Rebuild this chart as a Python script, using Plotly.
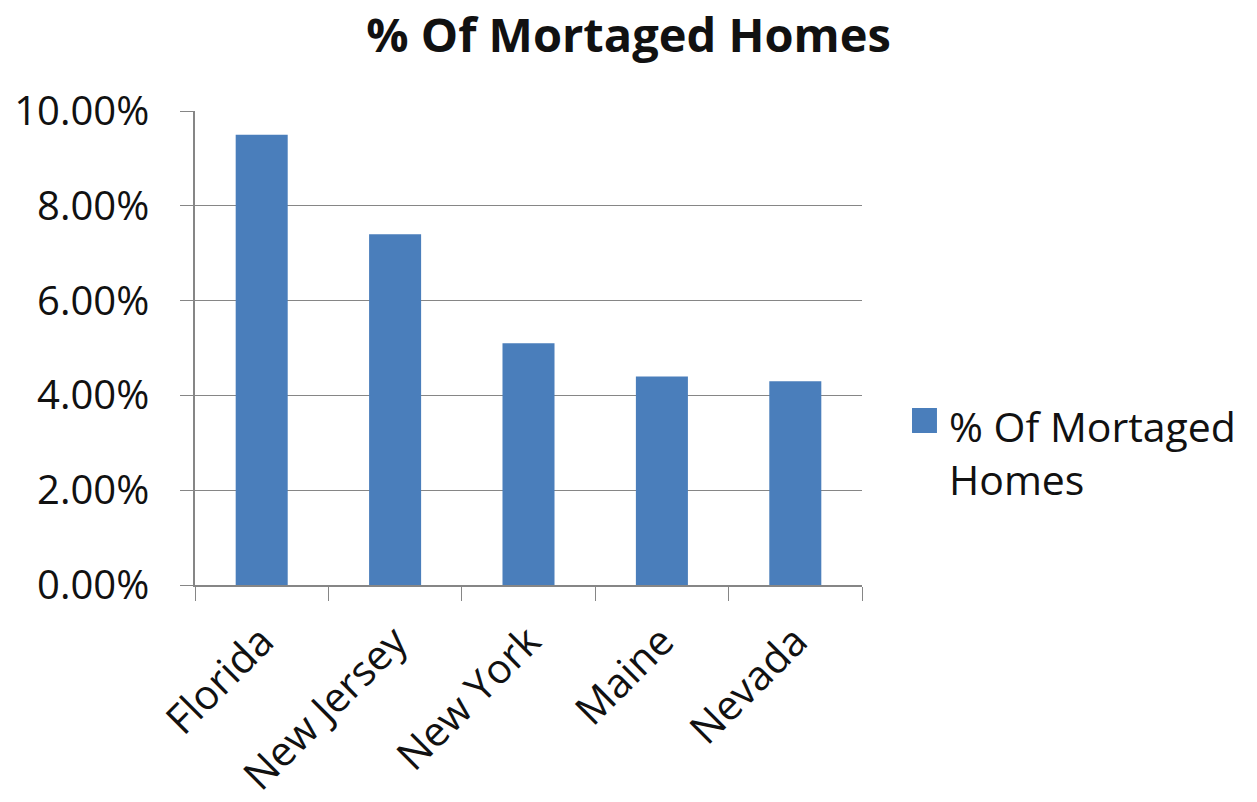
import plotly.graph_objects as go

states = ["Florida", "New Jersey", "New York", "Maine", "Nevada"]
pct_mortgaged = [0.095, 0.074, 0.051, 0.044, 0.043]
y_ticks = [0.0, 0.02, 0.04, 0.06, 0.08, 0.10]
y_tick_labels = ["0.00%", "2.00%", "4.00%", "6.00%", "8.00%", "10.00%"]
series_name = "% Of Mortaged<br>Homes"
title_text = "<b>% Of Mortaged Homes</b>"

FONT = "Open Sans, Liberation Sans, sans-serif"
TEXT = "#111111"
BAR = "#4A7EBB"
GRID = "#868686"

fig = go.Figure(
    go.Bar(
        x=states,
        y=pct_mortgaged,
        name=series_name,
        marker=dict(color=BAR, line=dict(width=0)),
        showlegend=False,
    )
)

# Legend key: a large square swatch with the series name beside it
fig.add_shape(
    type="rect", xref="paper", yref="paper",
    x0=1.075, x1=1.1124, y0=0.3207, y1=0.3734,
    fillcolor=BAR, line=dict(width=0),
)
fig.add_annotation(
    xref="paper", yref="paper",
    x=1.128, y=0.28, xanchor="left", yanchor="middle",
    text=series_name, showarrow=False, align="left",
    font=dict(family=FONT, size=41, color=TEXT),
)

fig.update_layout(
    width=1257,
    height=802,
    paper_bgcolor="white",
    plot_bgcolor="white",
    margin=dict(l=195, r=395, t=111, b=217, autoexpand=False),
    bargap=0.61,
    showlegend=False,
    title=dict(
        text=title_text,
        x=0.5,
        xanchor="center",
        y=1 - 36 / 802,
        yanchor="middle",
        font=dict(family=FONT, size=47, color=TEXT),
    ),
    font=dict(family=FONT, color=TEXT),
)

fig.update_xaxes(
    type="category",
    automargin=False,
    tickangle=-45,
    tickfont=dict(family=FONT, size=41, color=TEXT),
    showline=True,
    linecolor=GRID,
    linewidth=1.5,
    ticks="outside",
    tickson="boundaries",
    ticklen=14,
    tickcolor=GRID,
    showgrid=False,
    ticklabelstandoff=14,
)

fig.update_yaxes(
    automargin=False,
    range=[0, 0.10],
    tickvals=y_ticks,
    ticktext=y_tick_labels,
    tickfont=dict(family=FONT, size=40, color=TEXT),
    showline=True,
    linecolor=GRID,
    linewidth=1.5,
    ticks="outside",
    ticklen=13,
    tickcolor=GRID,
    showgrid=True,
    gridcolor=GRID,
    gridwidth=1.2,
    zeroline=False,
    ticklabelstandoff=23,
)

fig.write_html("out.html")
